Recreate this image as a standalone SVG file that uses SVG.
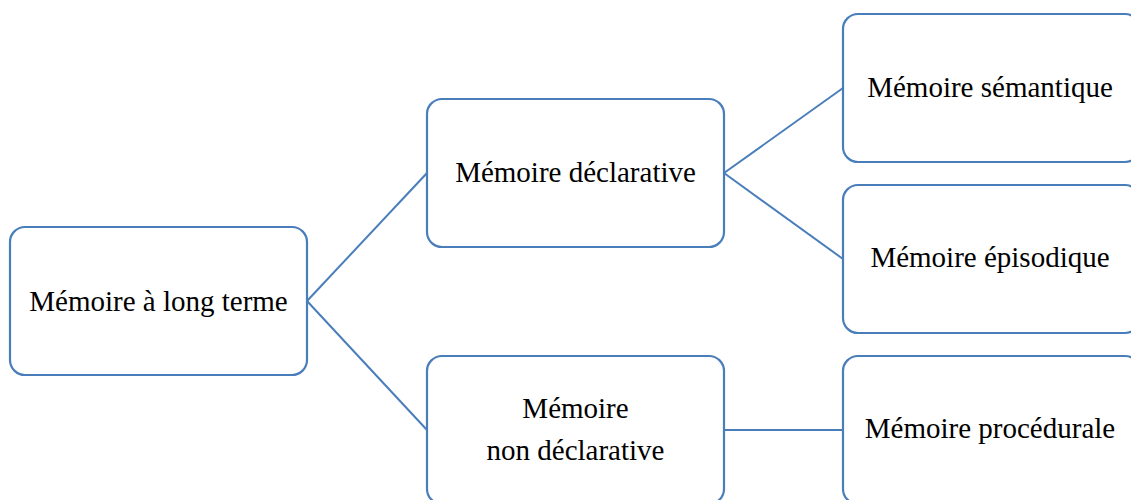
<svg xmlns="http://www.w3.org/2000/svg" width="1131" height="500" viewBox="0 0 1131 500">
<style>
.box{fill:#fff;stroke:#4a7ebb;stroke-width:2.2}
.lbl{font-family:"Liberation Serif","Times New Roman",serif;font-size:29px;fill:#000;text-anchor:middle}
.conn{stroke:#4a7ebb;stroke-width:2;fill:none}
</style>
<rect width="1131" height="500" fill="#fff"/>
<g id="connectors">
<line class="conn" x1="307" y1="301" x2="427" y2="173"/>
<line class="conn" x1="307" y1="301" x2="427" y2="430"/>
<line class="conn" x1="724" y1="173" x2="843" y2="88"/>
<line class="conn" x1="724" y1="173" x2="843" y2="259"/>
<line class="conn" x1="724" y1="430" x2="843" y2="430"/>
</g>
<g id="n1"><rect class="box" x="10" y="227" width="297" height="148" rx="15"/><text class="lbl" x="158.5" y="311">Mémoire à long terme</text></g>
<g id="n2"><rect class="box" x="427" y="99" width="297" height="148" rx="15"/><text class="lbl" x="575.5" y="182">Mémoire déclarative</text></g>
<g id="n3"><rect class="box" x="427" y="356" width="297" height="148" rx="15"/><text class="lbl" x="575.5" y="418">Mémoire</text><text class="lbl" x="575.5" y="460">non déclarative</text></g>
<g id="n4"><rect class="box" x="843" y="14" width="297" height="148" rx="15"/><text class="lbl" x="990" y="97">Mémoire sémantique</text></g>
<g id="n5"><rect class="box" x="843" y="185" width="297" height="148" rx="15"/><text class="lbl" x="990" y="267">Mémoire épisodique</text></g>
<g id="n6"><rect class="box" x="843" y="356" width="297" height="148" rx="15"/><text class="lbl" x="990" y="438">Mémoire procédurale</text></g>
</svg>
